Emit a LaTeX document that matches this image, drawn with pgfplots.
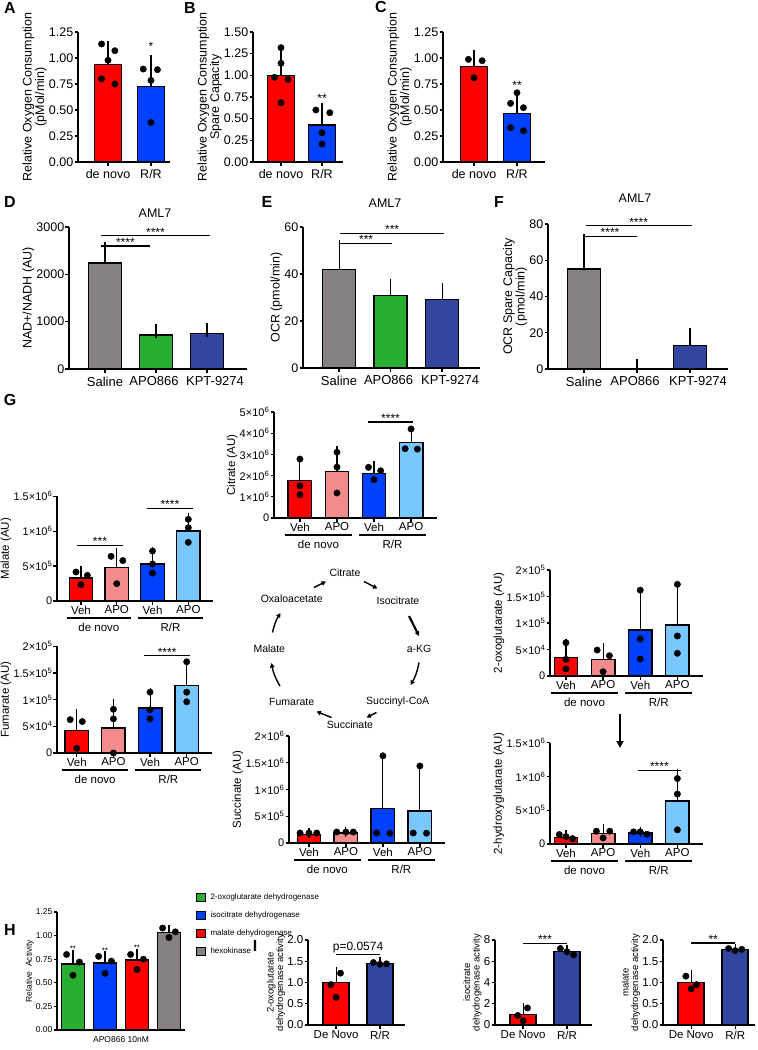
\documentclass[border=0pt]{standalone}
\usepackage{fontspec}
\setmainfont{Liberation Sans}
\usepackage{pgfplots}
\pgfplotsset{compat=1.18}
\usetikzlibrary{arrows.meta}
\newcommand\fs[1]{\fontsize{#1}{#1}\selectfont}
\definecolor{gred}{RGB}{255,0,0}
\definecolor{gblue}{RGB}{0,64,255}
\definecolor{gpink}{RGB}{242,140,140}
\definecolor{glblue}{RGB}{120,200,255}
\definecolor{ggray}{RGB}{135,128,128}
\definecolor{ggreen}{RGB}{40,175,50}
\definecolor{gnavy}{RGB}{50,70,160}
\pgfplotsset{
 gp/.style={scale only axis, anchor=south west, axis lines*=left, enlargelimits=false, clip=false, ymin=0,
  scaled y ticks=false,
  axis line style={line width=1.3pt,black}, tick align=outside, major tick length=3.5pt,
  tick style={line width=1.3pt,black}, minor tick num=0,
  tick label style={font=\fs{12.5}, inner sep=1pt}, ylabel style={font=\fs{12.5}, align=center, inner sep=1pt}},
 gpx/.style={xticklabel style={yshift=-3pt}},
 gpg/.style={gp, tick label style={font=\fs{11.5}}, yticklabel style={font=\fs{11}}, ylabel style={font=\fs{11.5}},
   xtick={0,1,2,3}, xticklabels={Veh,APO,Veh,APO}, bar width=23.5pt},
}
% x, mean, err(plus), colour, capsize
\newcommand\gbar[5]{\addplot[ybar, fill=#4, draw=black, line width=1.4pt, forget plot,
  error bars/.cd, y dir=plus, y explicit, error bar style={line width=1.1pt,black},
  error mark options={line width=1.1pt,black,mark size=#5}] coordinates {(#1,#2) +- (0,#3)};}
\newcommand\pts[1]{\addplot[only marks, mark=*, mark size=3.2pt, black, forget plot] coordinates {#1};}
\newcommand\sig[4]{\draw[line width=1.1pt] (axis cs:#1,#3) -- node[above, font=\fs{12}, inner sep=0pt, yshift=-1pt] {#4} (axis cs:#2,#3);}
\newcommand\groups{%
 \draw[line width=1.1pt] ([yshift=-17pt]axis cs:-0.4,0) -- ([yshift=-17pt]axis cs:1.4,0);
 \draw[line width=1.1pt] ([yshift=-17pt]axis cs:1.6,0) -- ([yshift=-17pt]axis cs:3.4,0);
 \node[font=\fs{11.5}] at ([yshift=-26pt]axis cs:0.5,0) {de novo};
 \node[font=\fs{11.5}] at ([yshift=-26pt]axis cs:2.5,0) {R/R};}
\begin{document}
\begin{tikzpicture}
\useasboundingbox (0,0) rectangle (758pt,-1050pt);
% panel letters
\foreach \l/\x/\y in {A/10/8, B/190/8, C/381/7, D/10/202, E/267/202, F/499/202, G/10/400, H/10/930, I/255/946}
  \node[font=\fs{16}\bfseries] at (\x pt,-\y pt) {\l};

% ---------- A
\begin{axis}[gp, gpx, at={(78pt,-162pt)}, width=92pt, height=130pt, xmin=-0.698, xmax=1.442, ymax=1.25,
 bar width=27pt, ytick={0,0.25,0.5,0.75,1,1.25}, yticklabels={0.00,0.25,0.50,0.75,1.00,1.25},
 xtick={0,1}, xticklabels={de novo,R/R}, ylabel={Relative Oxygen Consumption\\(pMol/min)}]
\gbar{0}{0.936}{0.174}{gred}{5.5pt}
\gbar{1}{0.728}{0.25}{gblue}{5.5pt}
\pts{(-0.15,1.135) (0.16,1.07) (0,0.978) (-0.15,0.80) (0.16,0.75)}
\pts{(0.82,0.894) (1.15,0.888) (1,0.785) (1,0.38)}
\node[font=\fs{12}] at (axis cs:1,1.11) {*};
\end{axis}
% ---------- B
\begin{axis}[gp, gpx, at={(253pt,-162pt)}, width=89.5pt, height=130pt, xmin=-0.683, xmax=1.5, ymax=1.5,
 bar width=27pt, ytick={0,0.25,0.5,0.75,1,1.25,1.5}, yticklabels={0.00,0.25,0.50,0.75,1.00,1.25,1.50},
 xtick={0,1}, xticklabels={de novo,R/R}, ylabel={Relative Oxygen Consumption\\Spare Capacity}]
\gbar{0}{1.00}{0.246}{gred}{5.5pt}
\gbar{1}{0.427}{0.192}{gblue}{5.5pt}
\pts{(0,1.319) (0,1.139) (-0.16,0.977) (0.17,0.954) (0,0.684)}
\pts{(0.85,0.60) (1.19,0.569) (1,0.338) (1,0.208)}
\node[font=\fs{12}] at (axis cs:1,0.74) {**};
\end{axis}
% ---------- C
\begin{axis}[gp, gpx, at={(443pt,-162pt)}, width=102pt, height=130pt, xmin=-0.721, xmax=1.651, ymax=1.25,
 bar width=27pt, ytick={0,0.25,0.5,0.75,1,1.25}, yticklabels={0.00,0.25,0.50,0.75,1.00,1.25},
 xtick={0,1}, xticklabels={de novo,R/R}, ylabel={Relative Oxygen Consumption\\(pMol/min)}]
\gbar{0}{0.917}{0.103}{gred}{5.5pt}
\gbar{1}{0.468}{0.169}{gblue}{5.5pt}
\pts{(-0.13,0.987) (0.19,0.974) (0,0.81)}
\pts{(1,0.666) (0.85,0.564) (1.15,0.522) (0.85,0.33) (1.15,0.301)}
\node[font=\fs{12}] at (axis cs:1,0.735) {**};
\end{axis}
% ---------- D
\begin{axis}[gp, gpx, at={(69pt,-369pt)}, width=177.8pt, height=142pt, xmin=-0.706, xmax=2.78, ymax=3000,
 bar width=33pt, ytick={0,1000,2000,3000}, yticklabels={0,1000,2000,3000}, xticklabel style={font=\fs{13}},
 xtick={0,1,2}, xticklabels={Saline,APO866\hspace*{4pt},\hspace*{16pt}KPT-9274}, ylabel={NAD+/NADH (AU)}]
\gbar{0}{2240}{290}{ggray}{7pt}
\gbar{1}{720}{80}{ggreen}{7pt}
\gbar{2}{755}{60}{gnavy}{7pt}
\sig{-0.08}{0.88}{2598}{****}
\sig{-0.08}{2.06}{2817}{****}
\end{axis}
\node[font=\fs{12.5}] at (155pt,-213pt) {AML7};
% ---------- E
\begin{axis}[gp, gpx, at={(303pt,-368pt)}, width=177.2pt, height=141pt, xmin=-0.70, xmax=2.74, ymax=60,
 bar width=33pt, ytick={0,20,40,60}, yticklabels={0,20,40,60}, xticklabel style={font=\fs{13}},
 xtick={0,1,2}, xticklabels={Saline,APO866\hspace*{4pt},\hspace*{16pt}KPT-9274}, ylabel={OCR (pmol/min)}]
\gbar{0}{41.9}{9.5}{ggray}{7pt}
\gbar{1}{30.9}{3.9}{ggreen}{7pt}
\gbar{2}{29.2}{3.9}{gnavy}{7pt}
\sig{0.02}{1.03}{53.1}{***}
\sig{0.02}{2.04}{57.3}{***}
\end{axis}
\node[font=\fs{12.5}] at (385pt,-203pt) {AML7};
% ---------- F
\begin{axis}[gp, gpx, at={(548pt,-369pt)}, width=180.2pt, height=145pt, xmin=-0.68, xmax=2.72, ymax=80,
 bar width=33pt, ytick={0,20,40,60,80}, yticklabels={0,20,40,60,80}, xticklabel style={font=\fs{13}},
 xtick={0,1,2}, xticklabels={Saline,APO866\hspace*{4pt},\hspace*{16pt}KPT-9274}, ylabel={OCR Spare Capacity\\(pmol/min)}]
\gbar{0}{55.1}{15.8}{ggray}{7pt}
\gbar{1}{0.3}{1.2}{ggreen}{7pt}
\gbar{2}{12.9}{6.1}{gnavy}{7pt}
\sig{-0.02}{1.0}{73.1}{****}
\sig{0.03}{2.03}{79}{****}
\end{axis}
\node[font=\fs{12.5}] at (635pt,-198pt) {AML7};

% ---------- G Malate
\begin{axis}[gpg, at={(57pt,-601pt)}, width=156pt, height=104.7pt, xmin=-0.67, xmax=3.69, ymax=1.5e6,
 ytick={0,5e5,1e6,1.5e6}, yticklabels={0,5×10\textsuperscript{5},1×10\textsuperscript{6},1.5×10\textsuperscript{6}},
 ylabel={Malate (AU)}]
\gbar{0}{3.3e5}{0.95e5}{gred}{5pt}
\gbar{1}{4.8e5}{2.1e5}{gpink}{5pt}
\gbar{2}{5.3e5}{1.7e5}{gblue}{5pt}
\gbar{3}{1.003e6}{1.82e5}{glblue}{5pt}
\pts{(-0.14,4.15e5) (0.18,3.68e5) (0,2.35e5)}
\pts{(0.84,6.4e5) (1.17,5.79e5) (1,2.49e5)}
\pts{(2,7.16e5) (2,5.3e5) (2,4.0e5)}
\pts{(3,1.17e6) (3,1.05e6) (3,0.84e6)}
\sig{-0.11}{1.17}{8.0e5}{***}
\sig{1.84}{3.13}{1.33e6}{****}
\groups
\end{axis}
% ---------- G Citrate
\begin{axis}[gpg, at={(274pt,-518pt)}, width=163pt, height=106pt, xmin=-0.70, xmax=3.70, ymax=5e6,
 ytick={0,1e6,2e6,3e6,4e6,5e6}, yticklabels={0,1×10\textsuperscript{6},2×10\textsuperscript{6},3×10\textsuperscript{6},4×10\textsuperscript{6},5×10\textsuperscript{6}},
 ylabel={Citrate (AU)}]
\gbar{0}{1.77e6}{0.92e6}{gred}{5pt}
\gbar{1}{2.2e6}{0.97e6}{gpink}{5pt}
\gbar{2}{2.09e6}{0.34e6}{gblue}{5pt}
\gbar{3}{3.57e6}{0.53e6}{glblue}{5pt}
\pts{(0,2.78e6) (0,1.52e6) (0,1.1e6)}
\pts{(1,3.1e6) (1,2.4e6) (1,1.18e6)}
\pts{(1.85,2.39e6) (2.18,2.23e6) (2,1.81e6)}
\pts{(3,4.2e6) (2.84,3.27e6) (3.17,3.25e6)}
\sig{1.84}{3.05}{4.53e6}{****}
\groups
\end{axis}
% ---------- G Fumarate
\begin{axis}[gpg, at={(57pt,-753pt)}, width=155pt, height=106.7pt, xmin=-0.54, xmax=3.69, ymax=2e5,
 ytick={0,5e4,1e5,1.5e5,2e5}, yticklabels={0,5×10\textsuperscript{4},1×10\textsuperscript{5},1.5×10\textsuperscript{5},2×10\textsuperscript{5}},
 ylabel={Fumarate (AU)}]
\gbar{0}{4.2e4}{3.1e4}{gred}{5pt}
\gbar{1}{4.7e4}{4.4e4}{gpink}{5pt}
\gbar{2}{8.4e4}{2.8e4}{gblue}{5pt}
\gbar{3}{1.26e5}{0.41e5}{glblue}{5pt}
\pts{(-0.18,6.25e4) (0.15,5.9e4) (0,0.87e4)}
\pts{(1,8.2e4) (1,6.4e4) (1,0)}
\pts{(2,1.14e5) (2,8.1e4) (2,6.4e4)}
\pts{(3,1.71e5) (3,1.14e5) (3,0.96e5)}
\sig{1.83}{3.1}{1.82e5}{****}
\groups
\end{axis}
% ---------- G Succinate
\begin{axis}[gpg, at={(289pt,-843pt)}, width=156pt, height=107pt, xmin=-0.54, xmax=3.68, ymax=2e6,
 ytick={0,5e5,1e6,1.5e6,2e6}, yticklabels={0,5×10\textsuperscript{5},1×10\textsuperscript{6},1.5×10\textsuperscript{6},2×10\textsuperscript{6}},
 ylabel={Succinate (AU)}]
\gbar{0}{1.6e5}{0.3e5}{gred}{5pt}
\gbar{1}{1.85e5}{0.2e5}{gpink}{5pt}
\gbar{2}{6.45e5}{8.55e5}{gblue}{5pt}
\gbar{3}{6.0e5}{7.3e5}{glblue}{5pt}
\pts{(-0.24,1.87e5) (0,1.87e5) (0.21,1.87e5)}
\pts{(0.75,2.06e5) (1,2.06e5) (1.2,2.06e5)}
\pts{(2,1.63e6) (1.83,1.87e5) (2.19,1.83e5)}
\pts{(3,1.44e6) (2.82,1.87e5) (3.18,1.83e5)}
\groups
\end{axis}
% ---------- G 2-oxoglutarate
\begin{axis}[gpg, at={(550pt,-676pt)}, width=153pt, height=106pt, xmin=-0.43, xmax=3.69, ymax=2e5,
 ytick={0,5e4,1e5,1.5e5,2e5}, yticklabels={0,5×10\textsuperscript{4},1×10\textsuperscript{5},1.5×10\textsuperscript{5},2×10\textsuperscript{5}},
 ylabel={2-oxoglutarate (AU)}]
\gbar{0}{3.53e4}{2.51e4}{gred}{5pt}
\gbar{1}{3.15e4}{2.08e4}{gpink}{5pt}
\gbar{2}{8.68e4}{6.79e4}{gblue}{5pt}
\gbar{3}{9.62e4}{6.78e4}{glblue}{5pt}
\pts{(0,6.28e4) (0,3.15e4) (0,1.32e4)}
\pts{(0.84,4.9e4) (1.17,3.83e4) (1,0.81e4)}
\pts{(2,1.62e5) (2,7.0e4) (2,3.2e4)}
\pts{(3,1.73e5) (3,7.55e4) (3,4.28e4)}
\groups
\end{axis}
% ---------- G 2-hydroxyglutarate
\begin{axis}[gpg, at={(550pt,-844pt)}, width=153pt, height=101.3pt, xmin=-0.43, xmax=3.69, ymax=1.5e6,
 ytick={0,5e5,1e6,1.5e6}, yticklabels={0,5×10\textsuperscript{5},1×10\textsuperscript{6},1.5×10\textsuperscript{6}},
 ylabel={2-hydroxyglutarate (AU)}]
\gbar{0}{1.0e5}{0.3e5}{gred}{5pt}
\gbar{1}{1.55e5}{0.65e5}{gpink}{5pt}
\gbar{2}{1.65e5}{0.2e5}{gblue}{5pt}
\gbar{3}{6.35e5}{3.95e5}{glblue}{5pt}
\pts{(-0.18,1.4e5) (0,1.1e5) (0.18,0.8e5)}
\pts{(0.82,1.9e5) (1.18,1.9e5) (1,0.9e5)}
\pts{(1.82,1.8e5) (2,1.8e5) (2.18,1.45e5)}
\pts{(3,9.7e5) (3,7.4e5) (3,2.1e5)}
\sig{1.93}{3.1}{1.09e6}{****}
\groups
\end{axis}
\draw[line width=2.2pt, -{Triangle[length=7pt,width=7pt]}] (620pt,-714pt) -- (620pt,-748pt);

% ---------- TCA cycle
\begin{scope}[every node/.style={font=\fs{10.5}}]
\node at (345pt,-573pt) {Citrate};
\node at (398pt,-600.7pt) {Isocitrate};
\node at (419pt,-649.3pt) {a-KG};
\node at (397.7pt,-701.7pt) {Succinyl-CoA};
\node at (350pt,-724.3pt) {Succinate};
\node at (291.7pt,-701.7pt) {Fumarate};
\node at (269.3pt,-648.3pt) {Malate};
\node at (291.7pt,-599pt) {Oxaloacetate};
\end{scope}
\begin{scope}[line width=1.4pt, -{Triangle[length=4.5pt,width=4.5pt]}]
\draw (314pt,-587.5pt) -- (326pt,-581.5pt);
\draw (364pt,-581.5pt) -- (377.5pt,-588.5pt);
\draw[line width=2.2pt] (409pt,-616pt) -- (419pt,-636pt);
\draw (419pt,-662.5pt) to[bend left=10] (410.5pt,-685pt);
\draw (376.5pt,-712.5pt) -- (366.5pt,-717.5pt);
\draw (331.5pt,-717.5pt) -- (316.5pt,-711.5pt);
\draw (280pt,-686pt) to[bend left=10] (271.5pt,-663pt);
\draw (272.5pt,-632.5pt) to[bend left=10] (280.5pt,-613pt);
\end{scope}

% ---------- H
\begin{axis}[gp, at={(57pt,-1030pt)}, width=128pt, height=118pt, xmin=-0.5, xmax=3.5, ymax=1.25,
 bar width=23pt, ytick={0,0.25,0.5,0.75,1,1.25}, yticklabels={0.00,0.25,0.50,0.75,1.00,1.25},
 tick label style={font=\fs{8.5}}, ylabel style={font=\fs{8.5}},
 xtick=\empty, xlabel={APO866 10nM}, xlabel style={font=\fs{8.5}},
 ylabel={Relative \ Activity}]
\gbar{0}{0.70}{0.10}{ggreen}{4pt}
\gbar{1}{0.71}{0.08}{gblue}{4pt}
\gbar{2}{0.74}{0.08}{gred}{4pt}
\gbar{3}{1.03}{0.04}{ggray}{4pt}
\pts{(-0.2,0.80) (0.2,0.72) (0,0.58)}
\pts{(0.8,0.78) (1.2,0.73) (1,0.60)}
\pts{(1.8,0.80) (2.2,0.75) (2,0.64)}
\pts{(2.8,1.08) (3.2,1.04) (3,0.98)}
\node[font=\fs{8}] at (axis cs:0,0.86) {**};
\node[font=\fs{8}] at (axis cs:1,0.84) {**};
\node[font=\fs{8}] at (axis cs:2,0.87) {**};
\end{axis}
\foreach \c/\t/\y in {ggreen/2-oxoglutarate dehydrogenase/897, gblue/isocitrate dehydrogenase/915, gred/malate dehydrogenase/933, ggray/hexokinase/951}{
  \fill[\c, draw=black, line width=0.8pt] (196pt,-\y pt-4pt) rectangle (205pt,-\y pt+4pt);
  \node[anchor=west, font=\fs{8}] at (207pt,-\y pt) {\t};
}

% ---------- I
\begin{axis}[gp, at={(308pt,-1025pt)}, width=97pt, height=85pt, xmin=-0.64, xmax=1.57, ymax=2,
 bar width=26pt, ytick={0,0.5,1,1.5,2}, yticklabels={0.0,0.5,1.0,1.5,2.0}, xticklabel style={yshift=-1pt},
 tick label style={font=\fs{11.5}}, ylabel style={font=\fs{9.5}},
 xtick={0,1}, xticklabels={De Novo,R/R}, ylabel={2-oxoglutarate\\dehydrogenase activity}]
\gbar{0}{1.0}{0.25}{gred}{5pt}
\gbar{1}{1.45}{0.03}{gnavy}{5pt}
\pts{(0.1,1.22) (-0.12,0.95) (0,0.65)}
\pts{(0.85,1.47) (1,1.43) (1.15,1.44)}
\draw[line width=1.1pt] (axis cs:0,1.65) -- node[above, font=\fs{12}, inner sep=1.5pt] {p=0.0574} (axis cs:1,1.65);
\end{axis}
\begin{axis}[gp, at={(495pt,-1025pt)}, width=97pt, height=85pt, xmin=-0.64, xmax=1.57, ymax=8,
 bar width=26pt, ytick={0,2,4,6,8}, yticklabels={0,2,4,6,8}, xticklabel style={yshift=-1pt},
 tick label style={font=\fs{11.5}}, ylabel style={font=\fs{9.5}},
 xtick={0,1}, xticklabels={De Novo,R/R}, ylabel={isocitrate\\dehydrogenase activity}]
\gbar{0}{1.0}{0.6}{gred}{5pt}
\gbar{1}{6.9}{0.2}{gnavy}{5pt}
\pts{(0.1,1.6) (-0.12,0.9) (0,0.4)}
\pts{(0.85,7.2) (1,6.9) (1.15,6.6)}
\sig{0}{1}{7.7}{***}
\end{axis}
\begin{axis}[gp, at={(663pt,-1025pt)}, width=92pt, height=85pt, xmin=-0.64, xmax=1.45, ymax=2,
 bar width=26pt, ytick={0,0.5,1,1.5,2}, yticklabels={0.0,0.5,1.0,1.5,2.0}, xticklabel style={yshift=-1pt},
 tick label style={font=\fs{11.5}}, ylabel style={font=\fs{9.5}},
 xtick={0,1}, xticklabels={De Novo,R/R}, ylabel={malate\\dehydrogenase activity}]
\gbar{0}{1.0}{0.17}{gred}{5pt}
\gbar{1}{1.77}{0.03}{gnavy}{5pt}
\pts{(-0.12,1.15) (0.12,0.95) (0,0.85)}
\pts{(0.85,1.8) (1,1.75) (1.15,1.78)}
\sig{0}{1}{1.93}{**}
\end{axis}
\end{tikzpicture}
\end{document}
